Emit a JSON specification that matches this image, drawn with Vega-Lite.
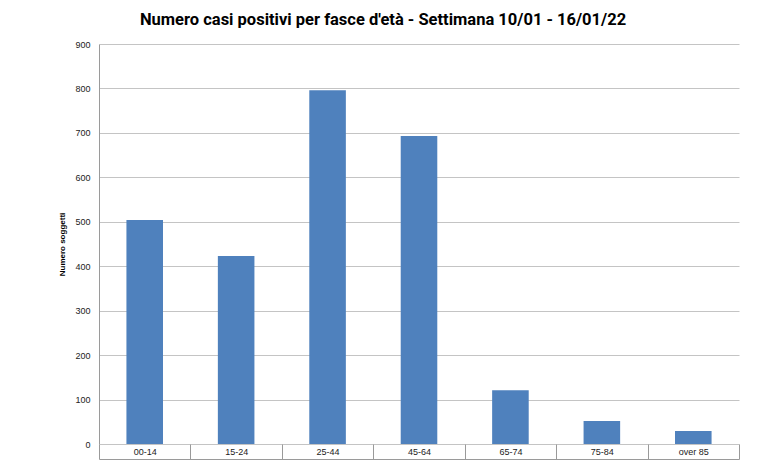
{
  "$schema": "https://vega.github.io/schema/vega-lite/v6.json",
  "width": 640,
  "height": 400,
  "autosize": {"type": "none"},
  "padding": {"left": 99, "top": 44, "right": 29, "bottom": 16},
  "background": "white",
  "title": {
    "text": "Numero casi positivi per fasce d'età - Settimana 10/01 - 16/01/22",
    "font": "Roboto",
    "fontSize": 16.5,
    "fontWeight": "bold",
    "color": "#000000",
    "anchor": "middle",
    "dx": -36,
    "offset": 12
  },
  "data": {
    "values": [
      {"fascia": "00-14", "n": 504},
      {"fascia": "15-24", "n": 423},
      {"fascia": "25-44", "n": 796},
      {"fascia": "45-64", "n": 693},
      {"fascia": "65-74", "n": 121},
      {"fascia": "75-84", "n": 52},
      {"fascia": "over 85", "n": 29}
    ]
  },
  "mark": {"type": "bar", "color": "#4F81BD", "width": {"band": 0.4}},
  "encoding": {
    "x": {
      "field": "fascia",
      "type": "nominal",
      "sort": null,
      "scale": {"paddingInner": 0, "paddingOuter": 0},
      "axis": {
        "title": null,
        "labelAngle": 0,
        "tickBand": "extent",
        "offset": 15,
        "tickSize": -15,
        "labelPadding": 3,
        "grid": false,
        "domainColor": "#9a9a9a",
        "tickColor": "#9a9a9a",
        "labelFont": "Liberation Sans",
        "labelFontSize": 9,
        "labelColor": "#222222"
      }
    },
    "y": {
      "field": "n",
      "type": "quantitative",
      "scale": {"domain": [0, 900], "nice": false},
      "axis": {
        "values": [0, 100, 200, 300, 400, 500, 600, 700, 800, 900],
        "grid": true,
        "gridColor": "#c4c4c4",
        "domainColor": "#9a9a9a",
        "tickSize": 0,
        "labelPadding": 9,
        "labelFont": "Liberation Sans",
        "labelFontSize": 9,
        "labelColor": "#222222",
        "title": "Numero soggetti",
        "titleFont": "Liberation Sans",
        "titleFontSize": 8,
        "titleFontWeight": "bold",
        "titleColor": "#000000",
        "titlePadding": 8
      }
    }
  },
  "config": {"view": {"stroke": null}}
}
